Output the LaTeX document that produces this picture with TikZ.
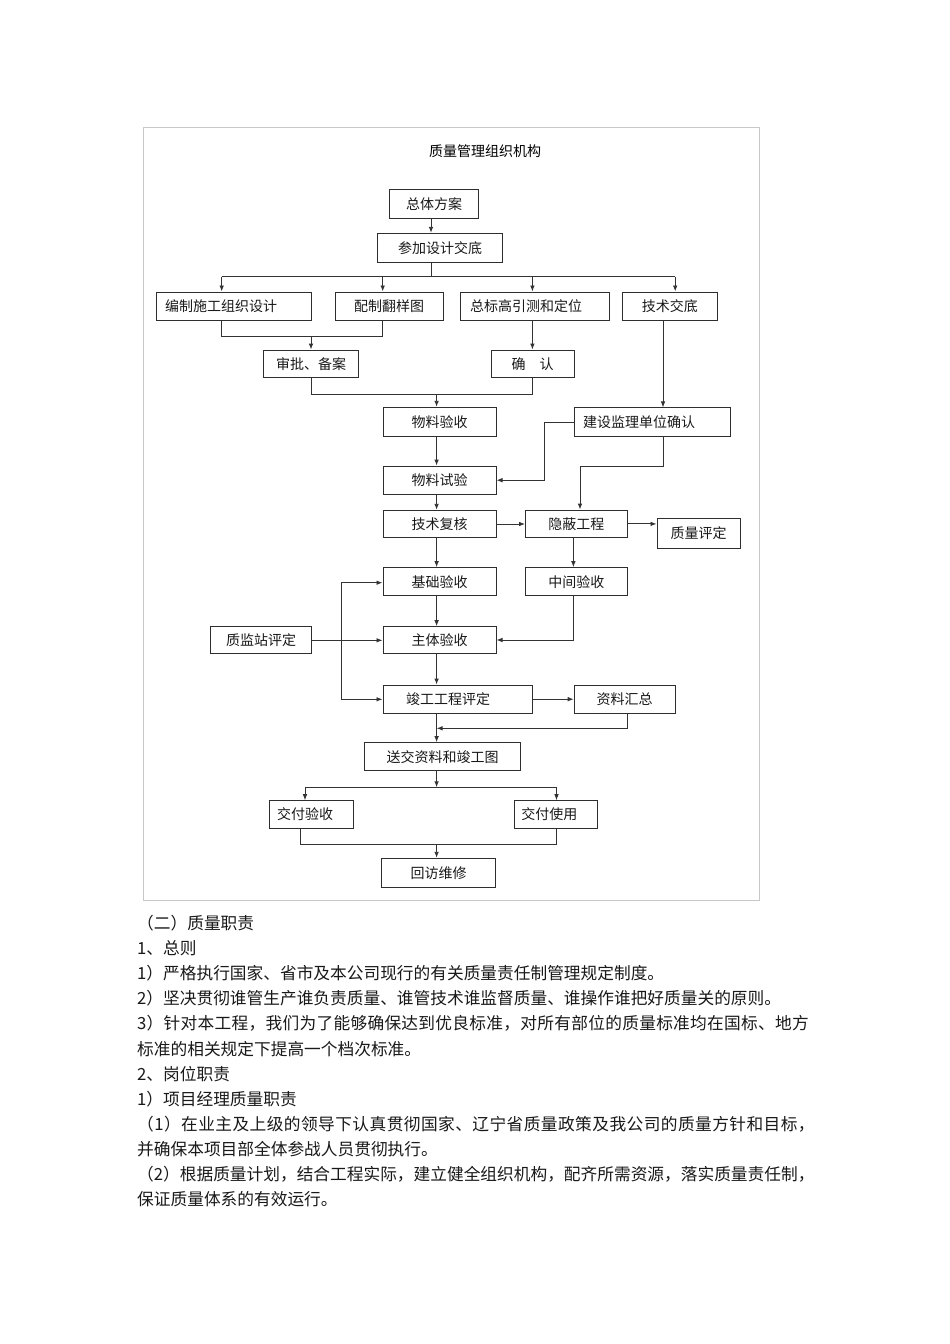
\documentclass[tikz,border=0pt]{standalone}
\usepackage{fontspec}
\setmainfont{Liberation Sans}
\newfontfamily\cjk{Noto Sans CJK SC}
\usetikzlibrary{arrows.meta}
\begin{document}
\begin{tikzpicture}[x=1pt,y=-1pt,
  box/.style={draw=black!82,line width=1pt,inner sep=0pt,font=\cjk\fontsize{14}{16}\selectfont,text=black!90},
  conn/.style={line width=0.9pt,draw=black!80},
  arr/.style={conn,-{Latex[length=6pt,width=4.6pt]}},
  body/.style={anchor=west,inner sep=0pt,font=\cjk\fontsize{16.7}{18}\selectfont,text=black!90}]
\fill[white] (0,0) rectangle (950,1344);
\useasboundingbox (0,0) rectangle (950,1344);
\draw[black!22,line width=1pt] (143.5,127) rectangle (759,900);
\node[inner sep=0pt,font=\cjk\fontsize{14}{16}\selectfont] (title) at (485,151) {质量管理组织机构};

% boxes
\node[box,minimum width=89.3pt,minimum height=29pt] (zt) at (434.2,204.2) {总体方案};
\node[box,minimum width=124.8pt,minimum height=29pt] (cj) at (440.2,247.8) {参加设计交底};
\node[box,text width=137.8pt,inner xsep=9pt,minimum height=28pt,align=left] (bz) at (233.9,306) {编制施工组织设计};
\node[box,minimum width=107.8pt,minimum height=28pt] (pz) at (389.1,306) {配制翻样图};
\node[box,text width=129.2pt,inner xsep=10pt,minimum height=28pt,align=left] (zb) at (534.6,306) {总标高引测和定位};
\node[box,minimum width=95.5pt,minimum height=28pt] (js) at (669.8,306) {技术交底};
\node[box,minimum width=95pt,minimum height=27.3pt] (sp) at (311,363.7) {审批、备案};
\node[box,minimum width=83.2pt,minimum height=27.3pt] (qr) at (532.6,363.7) {确\hspace{14pt}认};
\node[box,minimum width=113pt,minimum height=29.4pt] (wy) at (439.5,422) {物料验收};
\node[box,text width=137.8pt,inner xsep=9pt,minimum height=28.7pt,align=left] (jl) at (652.1,422.3) {建设监理单位确认};
\node[box,minimum width=113pt,minimum height=28.3pt] (ws) at (439.5,480.2) {物料试验};
\node[box,minimum width=113pt,minimum height=27.4pt] (jf) at (439.5,524) {技术复核};
\node[box,minimum width=101.8pt,minimum height=27.7pt] (yb) at (576.4,523.9) {隐蔽工程};
\node[box,minimum width=83.4pt,minimum height=30pt] (zp) at (698.7,533.3) {质量评定};
\node[box,minimum width=113pt,minimum height=28.3pt] (jc) at (439.5,581.8) {基础验收};
\node[box,minimum width=101.8pt,minimum height=28.3pt] (zj) at (576.4,581.8) {中间验收};
\node[box,minimum width=101.4pt,minimum height=27.3pt] (zjz) at (261.1,640.3) {质监站评定};
\node[box,minimum width=113pt,minimum height=27.3pt] (zt2) at (439.5,640.3) {主体验收};
\node[box,text width=103.4pt,inner xsep=23pt,minimum height=28.3pt,align=left] (jg) at (457.7,699.2) {竣工工程评定};
\node[box,minimum width=101pt,minimum height=28.3pt] (zl) at (624.7,699.2) {资料汇总};
\node[box,minimum width=156.2pt,minimum height=28.3pt] (ss) at (442.6,756.8) {送交资料和竣工图};
\node[box,text width=68.1pt,inner xsep=8pt,minimum height=27.6pt,align=left] (jy) at (311.2,814.5) {交付验收};
\node[box,text width=69.3pt,inner xsep=7pt,minimum height=27.6pt,align=left] (jsy) at (555.9,814.5) {交付使用};
\node[box,minimum width=113.4pt,minimum height=29.4pt] (hf) at (438.6,873) {回访维修};

% connectors
\draw[arr] (431,0 |- zt.south) -- (431,0 |- cj.north);
\draw[conn] (431,0 |- cj.south) -- (431,276.7);
\draw[conn] (221.7,276.7) -- (675.2,276.7);
\foreach \x/\n in {221.7/bz,382.7/pz,532.4/zb,675.2/js}
  \draw[arr] (\x,276.7) -- (\x,0 |- \n.north);
\draw[conn] (221.7,0 |- bz.south) -- (221.7,336.7) -- (382.7,336.7) -- (382.7,0 |- pz.south);
\draw[arr] (311,336.7) -- (311,0 |- sp.north);
\draw[arr] (532.4,0 |- zb.south) -- (532.4,0 |- qr.north);
\draw[conn] (311.8,0 |- sp.south) -- (311.8,394) -- (532.4,394) -- (532.4,0 |- qr.south);
\draw[arr] (436.6,394) -- (436.6,0 |- wy.north);
\draw[arr] (663,0 |- js.south) -- (663,0 |- jl.north);
\draw[arr] (436.6,0 |- wy.south) -- (436.6,0 |- ws.north);
\draw[arr] (436.6,0 |- ws.south) -- (436.6,0 |- jf.north);
\draw[arr] (436.6,0 |- jf.south) -- (436.6,0 |- jc.north);
\draw[arr] (436.6,0 |- jc.south) -- (436.6,0 |- zt2.north);
\draw[arr] (436.6,0 |- zt2.south) -- (436.6,0 |- jg.north);
\draw[arr] (436.6,0 |- jg.south) -- (436.6,0 |- ss.north);
\draw[arr] (jl.west) -- (544.4,0 |- jl.west) -- (544.4,0 |- ws.east) -- (ws.east);
\draw[arr] (663,0 |- jl.south) -- (663,466) -- (580,466) -- (580,0 |- yb.north);
\draw[arr] (jf.east) -- (jf.east -| yb.west);
\draw[arr] (yb.east) -- (yb.east -| zp.west);
\draw[arr] (573.4,0 |- yb.south) -- (573.4,0 |- zj.north);
\draw[arr] (573.4,0 |- zj.south) -- (573.4,640) -- (zt2.east |- 0,640);
\draw[arr] (zjz.east) -- (zjz.east -| zt2.west);
\draw[conn] (341.2,582.7) -- (341.2,699.3);
\draw[arr] (341.2,582.7) -- (jc.west |- 0,582.7);
\draw[arr] (341.2,699.3) -- (jg.west |- 0,699.3);
\draw[arr] (jg.east) -- (jg.east -| zl.west);
\draw[arr] (627.3,0 |- zl.south) -- (627.3,728.3) -- (436.6,728.3);
\draw[arr] (436.6,0 |- ss.south) -- (436.6,787.3);
\draw[conn] (305,787.3) -- (556.5,787.3);
\draw[arr] (305,787.3) -- (305,0 |- jy.north);
\draw[arr] (556.5,787.3) -- (556.5,0 |- jsy.north);
\draw[conn] (300.2,0 |- jy.south) -- (300.2,844) -- (556.5,844) -- (556.5,0 |- jsy.south);
\draw[arr] (436.6,844) -- (436.6,0 |- hf.north);

% body text
\node[body] (t1) at (137,923.3) {（二）质量职责};
\node[body] (t2) at (137,948.4) {1、总则};
\node[body] (t3) at (137,973.5) {1）严格执行国家、省市及本公司现行的有关质量责任制管理规定制度。};
\node[body] (t4) at (137,998.6) {2）坚决贯彻谁管生产谁负责质量、谁管技术谁监督质量、谁操作谁把好质量关的原则。};
\node[body] (t5) at (137,1023.7) {\addfontfeatures{LetterSpace=1.7}3）针对本工程，我们为了能够确保达到优良标准，对所有部位的质量标准均在国标、地方};
\node[body] (t6) at (137,1048.8) {标准的相关规定下提高一个档次标准。};
\node[body] (t7) at (137,1074) {2、岗位职责};
\node[body] (t8) at (137,1099.1) {1）项目经理质量职责};
\node[body] (t9) at (137,1124.2) {\addfontfeatures{LetterSpace=2.6}（1）在业主及上级的领导下认真贯彻国家、辽宁省质量政策及我公司的质量方针和目标，};
\node[body] (t10) at (137,1149.3) {并确保本项目部全体参战人员贯彻执行。};
\node[body] (t11) at (137,1174.4) {（2）根据质量计划，结合工程实际，建立健全组织机构，配齐所需资源，落实质量责任制，};
\node[body] (t12) at (137,1199.5) {保证质量体系的有效运行。};
\end{tikzpicture}
\end{document}
